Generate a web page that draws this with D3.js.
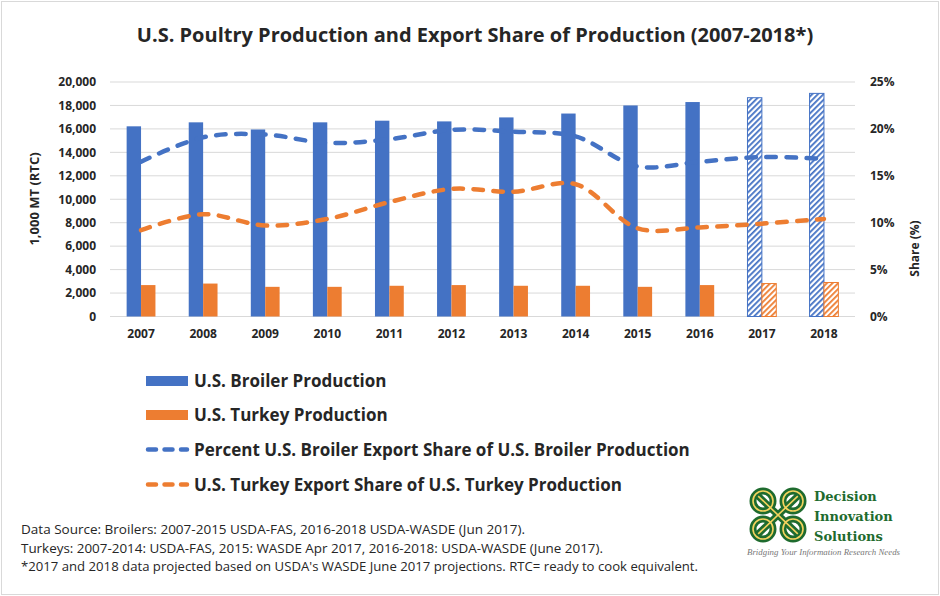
<!DOCTYPE html>
<html>
<head>
<meta charset="utf-8">
<script src="https://cdn.jsdelivr.net/npm/d3@7/dist/d3.min.js"></script>
<style>
  body { margin: 0; background: #fff; }
  svg { display: block; font-family: "Open Sans", sans-serif; }
</style>
</head>
<body>
<svg id="chart"></svg>
<script>
const years = ['2007', '2008', '2009', '2010', '2011', '2012', '2013', '2014', '2015', '2016', '2017', '2018'];
const projectedYears = ['2017', '2018'];
const broilerProd = [16220, 16560, 15950, 16560, 16700, 16640, 16980, 17310, 18000, 18290, 18660, 19030];
const turkeyProd = [2680, 2810, 2530, 2530, 2620, 2680, 2620, 2620, 2530, 2680, 2810, 2900];
const broilerShare = [16.5, 19.1, 19.4, 18.5, 18.9, 19.9, 19.7, 19.2, 16.0, 16.5, 17.0, 16.8];
const turkeyShare = [9.2, 10.9, 9.7, 10.4, 12.2, 13.6, 13.3, 14.1, 9.4, 9.5, 9.9, 10.4];
const leftTicks = [0, 2000, 4000, 6000, 8000, 10000, 12000, 14000, 16000, 18000, 20000];
const rightTicks = [0, 5, 10, 15, 20, 25];
const legendLabels = ['U.S. Broiler Production', 'U.S. Turkey Production',
  'Percent U.S. Broiler Export Share of U.S. Broiler Production',
  'U.S. Turkey Export Share of U.S. Turkey Production'];
const footLines = [
  'Data Source:  Broilers: 2007-2015 USDA-FAS,  2016-2018 USDA-WASDE (Jun 2017).',
  'Turkeys: 2007-2014: USDA-FAS, 2015: WASDE Apr 2017, 2016-2018: USDA-WASDE (June 2017).',
  "*2017 and 2018 data projected based on USDA's WASDE June 2017 projections. RTC= ready to cook equivalent."
];
const footWidths = [504, 582, 677];

const BLUE = '#4472C4';
const ORANGE = '#ED7D31';
const TXT = '#262626';
const GREEN = '#1e6b2e';

function drawChart() {
  const W = 940, H = 596;
  const svg = d3.select('#chart').attr('width', W).attr('height', H);

  svg.append('rect').attr('x', 1.5).attr('y', 1.5).attr('width', W - 3).attr('height', H - 3)
    .attr('fill', '#fff').attr('stroke', '#d9d9d9');

  // hatch patterns for the projected years
  const defs = svg.append('defs');
  [['hatchBlue', BLUE], ['hatchOrange', ORANGE]].forEach(([id, col]) => {
    const p = defs.append('pattern').attr('id', id).attr('patternUnits', 'userSpaceOnUse')
      .attr('width', 4).attr('height', 4).attr('patternTransform', 'rotate(45)');
    p.append('rect').attr('width', 4).attr('height', 4).attr('fill', '#fff');
    p.append('rect').attr('width', 1.8).attr('height', 4).attr('fill', col);
  });

  const plot = { left: 110, right: 855, top: 82, bottom: 316.5 };

  const x = d3.scaleBand().domain(years).range([plot.left, plot.right]).padding(0);
  const yL = d3.scaleLinear().domain([0, 20000]).range([plot.bottom, plot.top]);
  const yR = d3.scaleLinear().domain([0, 25]).range([plot.bottom, plot.top]);
  const barW = x.bandwidth() * 0.232;

  // gridlines
  svg.append('g').selectAll('line').data(leftTicks).join('line')
    .attr('x1', plot.left).attr('x2', plot.right)
    .attr('y1', d => yL(d)).attr('y2', d => yL(d))
    .attr('stroke', '#d9d9d9').attr('stroke-width', 1);

  const styleTicks = g => {
    g.select('.domain').remove();
    g.selectAll('text').attr('font-size', 12).attr('font-weight', 700).attr('fill', TXT)
      .attr('font-family', '"Open Sans", sans-serif');
  };

  svg.append('g').attr('transform', `translate(${plot.left - 14},0)`)
    .call(d3.axisLeft(yL).tickValues(leftTicks).tickFormat(d3.format(',')).tickSize(0).tickPadding(0))
    .call(styleTicks);

  svg.append('g').attr('transform', `translate(${plot.right + 15},0)`)
    .call(d3.axisRight(yR).tickValues(rightTicks).tickFormat(d => d + '%').tickSize(0).tickPadding(0))
    .call(styleTicks);

  svg.append('g').attr('transform', `translate(0,${plot.bottom + 13})`)
    .call(d3.axisBottom(x).tickSize(0).tickPadding(0))
    .call(styleTicks);

  const isProj = y => projectedYears.includes(y);

  // bars
  svg.append('g').selectAll('rect').data(years).join('rect')
    .attr('x', d => x(d) + x.bandwidth() / 2 - barW)
    .attr('width', barW)
    .attr('y', (d, i) => yL(broilerProd[i]))
    .attr('height', (d, i) => plot.bottom - yL(broilerProd[i]))
    .attr('fill', d => isProj(d) ? 'url(#hatchBlue)' : BLUE)
    .attr('stroke', d => isProj(d) ? BLUE : 'none').attr('stroke-width', 1);

  svg.append('g').selectAll('rect').data(years).join('rect')
    .attr('x', d => x(d) + x.bandwidth() / 2)
    .attr('width', barW)
    .attr('y', (d, i) => yL(turkeyProd[i]))
    .attr('height', (d, i) => plot.bottom - yL(turkeyProd[i]))
    .attr('fill', d => isProj(d) ? 'url(#hatchOrange)' : ORANGE)
    .attr('stroke', d => isProj(d) ? ORANGE : 'none').attr('stroke-width', 1);

  // share lines (smoothed, dashed)
  const line = d3.line()
    .x((d, i) => x(years[i]) + x.bandwidth() / 2)
    .y(d => yR(d))
    .curve(d3.curveCatmullRom.alpha(0.5));

  [[broilerShare, BLUE], [turkeyShare, ORANGE]].forEach(([vals, col]) => {
    svg.append('path').datum(vals).attr('d', line)
      .attr('fill', 'none').attr('stroke', col).attr('stroke-width', 4.5)
      .attr('stroke-dasharray', '9.5,10.5').attr('stroke-linecap', 'round');
  });

  // axis titles
  svg.append('text').attr('transform', 'translate(39,199) rotate(-90)')
    .attr('text-anchor', 'middle').attr('font-size', 13).attr('font-weight', 700).attr('fill', TXT)
    .text('1,000 MT (RTC)');
  svg.append('text').attr('transform', 'translate(919,248.5) rotate(-90)')
    .attr('text-anchor', 'middle').attr('font-size', 12).attr('font-weight', 700).attr('fill', TXT)
    .text('Share (%)');

  // title
  svg.append('text').attr('x', 475).attr('y', 42).attr('text-anchor', 'middle')
    .attr('font-size', 20).attr('font-weight', 700).attr('fill', TXT)
    .text('U.S. Poultry Production and Export Share of Production (2007-2018*)');

  // legend
  const rowY = [381, 415, 449.5, 484.5];
  const leg = svg.append('g');
  legendLabels.forEach((lab, i) => {
    const g = leg.append('g').attr('transform', `translate(0,${rowY[i]})`);
    const col = (i % 2 === 0) ? BLUE : ORANGE;
    if (i < 2) {
      g.append('rect').attr('x', 146).attr('y', -5).attr('width', 42).attr('height', 10).attr('fill', col);
    } else {
      g.append('line').attr('x1', 148).attr('x2', 187).attr('y1', 0).attr('y2', 0)
        .attr('stroke', col).attr('stroke-width', 4.5).attr('stroke-linecap', 'round')
        .attr('stroke-dasharray', '8,8.5');
    }
    g.append('text').attr('x', 194).attr('y', 6).attr('font-size', 17).attr('font-weight', 700)
      .attr('fill', TXT).text(lab);
  });

  // footnote
  svg.append('g').selectAll('text').data(footLines).join('text')
    .attr('x', 21).attr('y', (d, i) => 534 + i * 18.5)
    .attr('font-size', 12.5).attr('fill', TXT)
    .attr('textLength', (d, i) => footWidths[i]).attr('lengthAdjust', 'spacingAndGlyphs')
    .text(d => d);

  // logo
  const logo = svg.append('g').attr('transform', 'translate(778,515)');
  const corners = [[-15, -14], [15, -14], [-15, 14], [15, 14]];
  const diag = [[-22, -21, 22, 21], [22, -21, -22, 21]];
  logo.append('g').selectAll('circle').data(corners).join('circle')
    .attr('cx', d => d[0]).attr('cy', d => d[1]).attr('r', 10)
    .attr('fill', 'none').attr('stroke', GREEN).attr('stroke-width', 7);
  logo.append('g').selectAll('line').data(diag).join('line')
    .attr('x1', d => d[0]).attr('y1', d => d[1]).attr('x2', d => d[2]).attr('y2', d => d[3])
    .attr('stroke', GREEN).attr('stroke-width', 7);
  logo.append('g').selectAll('line').data(diag).join('line')
    .attr('x1', d => d[0] * 0.9).attr('y1', d => d[1] * 0.9).attr('x2', d => d[2] * 0.9).attr('y2', d => d[3] * 0.9)
    .attr('stroke', '#f4d35e').attr('stroke-width', 1.6);
  logo.append('g').selectAll('circle').data(corners).join('circle')
    .attr('cx', d => d[0]).attr('cy', d => d[1]).attr('r', 10)
    .attr('fill', 'none').attr('stroke', '#f4d35e').attr('stroke-width', 1.6);

  const brand = ['Decision', 'Innovation', 'Solutions'];
  svg.append('g').selectAll('text').data(brand).join('text')
    .attr('x', 814).attr('y', (d, i) => 501 + i * 20)
    .attr('font-family', '"DejaVu Serif", serif').attr('font-weight', 700)
    .attr('font-size', 13).attr('fill', GREEN).text(d => d);
  svg.append('text').attr('x', 747).attr('y', 555)
    .attr('font-family', '"Liberation Serif", serif').attr('font-style', 'italic')
    .attr('font-size', 8).attr('fill', '#777').attr('textLength', 153).attr('lengthAdjust', 'spacingAndGlyphs')
    .text('Bridging Your Information Research Needs');
}

drawChart();
</script>
</body>
</html>
